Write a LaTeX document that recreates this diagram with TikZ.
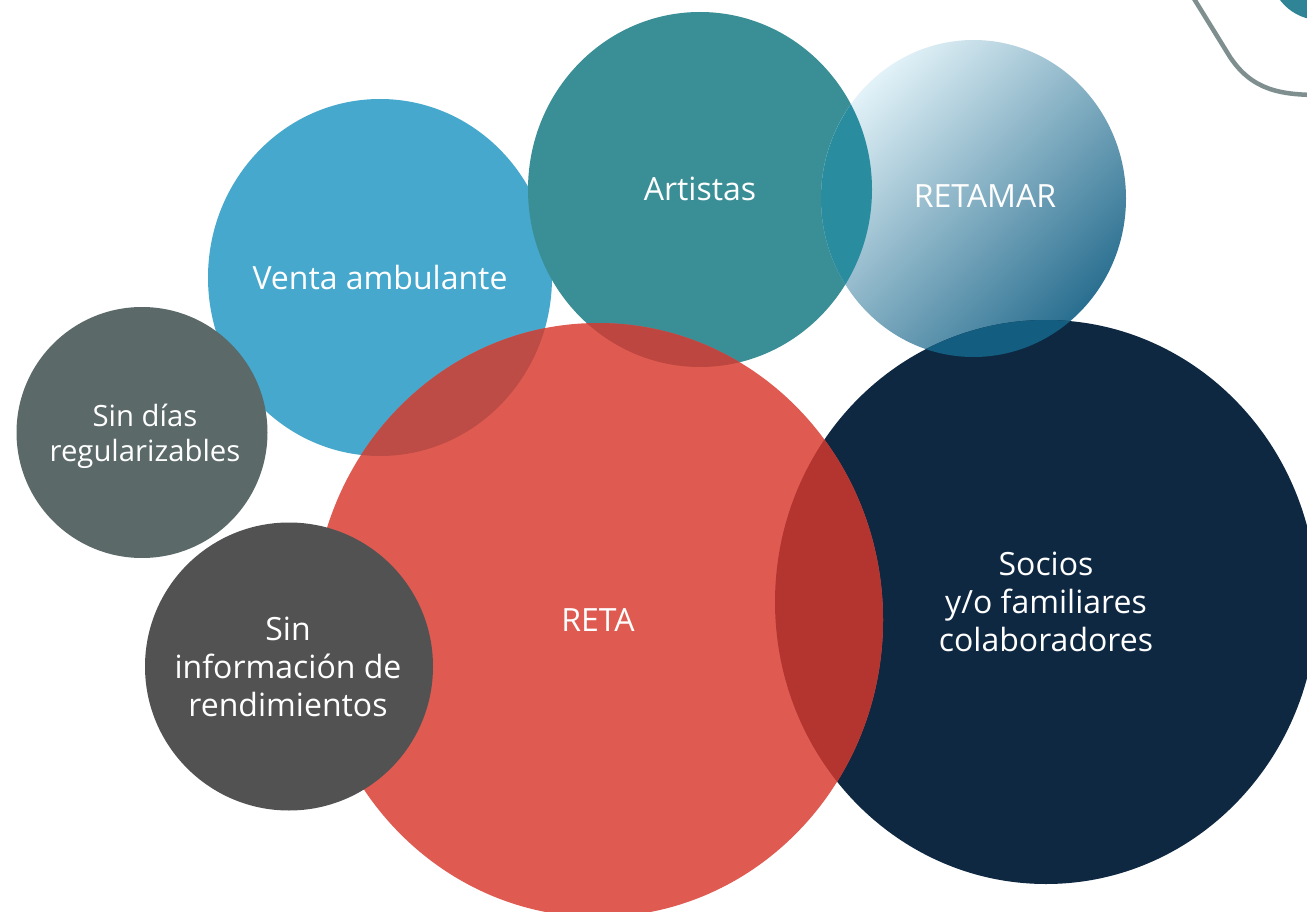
\documentclass[tikz,border=0pt]{standalone}
\usepackage{fontspec}
\setmainfont{Open Sans}
\definecolor{venta}{HTML}{46A8CD}
\definecolor{artistas}{HTML}{3A8F97}
\definecolor{rmlight}{HTML}{E2F2F8}
\definecolor{rmmid}{HTML}{8CC3D9}
\definecolor{rmdark}{HTML}{2A6F90}
\definecolor{artrm}{HTML}{2A8C9F}
\definecolor{socios}{HTML}{0F2842}
\definecolor{socrm}{HTML}{135E80}
\definecolor{reta}{HTML}{DF5B51}
\definecolor{retaventa}{HTML}{BE4C46}
\definecolor{retaart}{HTML}{BD4740}
\definecolor{retasoc}{HTML}{B43530}
\definecolor{sindias}{HTML}{5B6969}
\definecolor{sininfo}{HTML}{525252}
\definecolor{decogray}{HTML}{7F8F8F}
\definecolor{cornerteal}{HTML}{2F8596}
\newcommand\pVenta{(380,277.5) ellipse [x radius=172pt, y radius=178.5pt]}
\newcommand\pArt{(700,189.5) ellipse [x radius=172pt, y radius=177.5pt]}
\newcommand\pRM{(973.5,198.5) ellipse [x radius=152.5pt, y radius=158.5pt]}
\newcommand\pSoc{(1046,602) ellipse [x radius=271pt, y radius=282pt]}
\newcommand\pReta{(598,620) ellipse [x radius=285pt, y radius=297pt]}
\begin{document}
\begin{tikzpicture}[x=1pt,y=-1pt,
  lbl/.style={text=white, align=center, inner sep=0pt,
    font=\fontsize{32}{38}\selectfont}]
\useasboundingbox (0,0) rectangle (1307,912);
\clip (0,0) rectangle (1307,912);
\fill[white] (0,0) rectangle (1307,912);
% corner decoration
\fill[cornerteal] (1320,-30) circle [radius=50pt];
\coordinate (g1) at (1188,-11);
\coordinate (g2) at (1230,57);
\coordinate (g3) at (1320,95);
\draw[decogray, line width=4.5pt] (g1) -- (g2) .. controls (1252,90) and (1280,95) .. (g3);
% circles
\fill[venta] \pVenta;
\fill[artistas] \pArt;
\shade[top color=rmlight, middle color=rmmid, bottom color=rmdark, shading angle=45] \pRM;
\begin{scope}
  \clip \pArt;
  \fill[artrm] \pRM;
\end{scope}
\fill[socios] \pSoc;
\begin{scope}
  \clip \pRM;
  \fill[socrm] \pSoc;
\end{scope}
\fill[reta] \pReta;
\begin{scope}
  \clip \pReta;
  \fill[retaventa] \pVenta;
  \fill[retaart] \pArt;
  \fill[retasoc] \pSoc;
\end{scope}
\fill[sindias] (142,432.5) circle [radius=125.5pt];
\fill[sininfo] (289,666.5) circle [radius=144pt];
% labels
\node[lbl] (tventa) at (380,277) {Venta ambulante};
\node[lbl] (tart) at (700,189) {Artistas};
\node[lbl] (trm) at (985,196) {RETAMAR};
\node[lbl] (treta) at (598,620) {RETA};
\node[lbl] (tsoc) at (1046,602) {Socios\\y/o familiares\\colaboradores};
\node[lbl, font=\fontsize{29.3}{35}\selectfont] (tdias) at (145,436) {Sin días\\regularizables};
\node[lbl] (tinfo) at (288,667) {Sin\\información de\\rendimientos};
\end{tikzpicture}
\end{document}
